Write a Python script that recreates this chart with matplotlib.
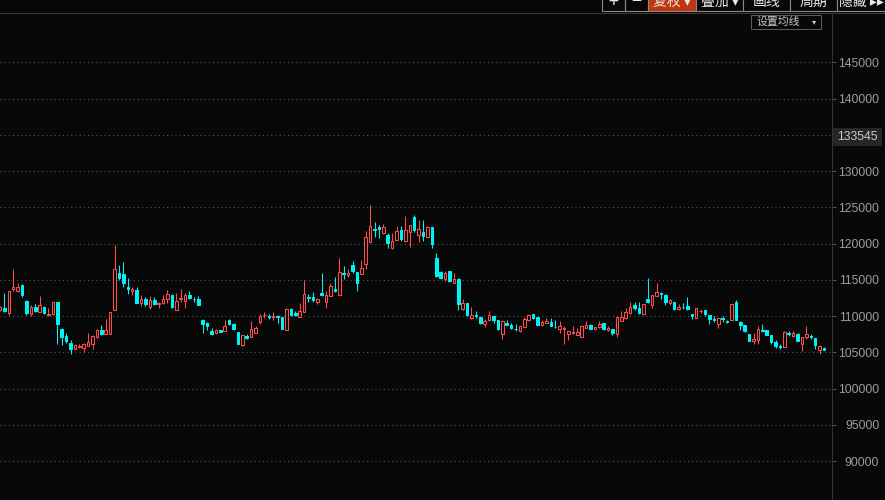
import matplotlib.pyplot as plt
import numpy as np
from matplotlib.patches import Rectangle

plt.rcParams['font.family'] = ['Liberation Sans', 'DejaVu Sans']

# OHLC, left to right
opens = [
    110870, 111060, 110460, 113680, 113450, 114280, 112070, 110320, 111240, 110600,
    111240, 110140, 110230, 111890, 108210, 107240, 106230, 105490, 105720, 105630,
    105860, 106180, 107150, 108070, 107560, 107560, 110870, 115930, 115750, 114000,
    113500, 113630, 111840, 112350, 111290, 112210, 111660, 111840, 112300, 112900,
    110870, 112300, 112120, 112900, 112390, 112350, 109450, 109030, 107930, 107610,
    108070, 107930, 109450, 108940, 107790, 105950, 107290, 107150, 107700, 109220,
    110090, 110000, 109860, 109950, 109860, 108110, 110970, 110460, 109910, 110600,
    112580, 112620, 111980, 113170, 111980, 112810, 113770, 112940, 115930, 115700,
    117040, 116070, 115840, 117130, 120260, 122010, 122330, 121450, 121180, 119340,
    120530, 121820, 120300, 121640, 123620, 121130, 121590, 120860, 122240, 117960,
    116070, 115110, 116210, 114600, 115110, 110970, 111750, 109680, 110140, 109860,
    108940, 109400, 109950, 109400, 107470, 109030, 108760, 108250, 107930, 108530,
    109490, 110230, 109860, 108710, 109080, 109170, 108530, 108250, 108160, 107560,
    107610, 107420, 107150, 108390, 108760, 108160, 108530, 109030, 108110, 108210,
    107560, 109360, 109720, 110370, 111520, 111150, 110230, 112360, 111480, 112830,
    113200, 112920, 111760, 111900, 110930, 111300, 111390, 110280, 109770, 110650,
    110790, 110090, 109580, 108940, 109680, 109310, 109490, 111950, 109170, 108750,
    107500, 106530, 106710, 108010, 108060, 107360, 106390, 105880, 105740, 107690,
    107220, 107500, 106200, 107080, 107220, 106950, 105370, 105560,
]
highs = [
    111380, 113220, 113450, 116490, 114510, 114370, 112160, 111520, 111660, 112760,
    111380, 111150, 111930, 111930, 108390, 107650, 106690, 106090, 106090, 106320,
    107650, 107380, 108250, 108710, 109590, 110550, 119800, 117040, 117450, 115200,
    114000, 113960, 112900, 112620, 112710, 112620, 111980, 112940, 113590, 112990,
    113170, 113730, 113170, 113450, 112620, 112760, 109630, 109220, 108340, 108210,
    108110, 109400, 109590, 109030, 107840, 107420, 107470, 109310, 108620, 110320,
    110550, 110280, 110550, 110140, 109910, 111150, 111100, 110690, 111840, 114920,
    112990, 113310, 112530, 115930, 113450, 114550, 115380, 118000, 116900, 116440,
    117590, 116120, 117730, 121730, 125320, 122970, 122560, 122650, 121500, 121500,
    122420, 122420, 123800, 122560, 123980, 123250, 123250, 122370, 122280, 118690,
    116160, 116210, 116260, 115930, 115200, 112300, 111790, 111240, 110690, 109910,
    109630, 110690, 110000, 109450, 109450, 109400, 109080, 108940, 108670, 109910,
    110280, 110280, 109910, 109450, 109720, 109720, 109450, 109310, 108670, 107980,
    108620, 108390, 108760, 109310, 108900, 108530, 109310, 109080, 108620, 108250,
    110050, 110690, 111150, 111930, 111930, 111930, 111670, 115280, 112920, 114580,
    113290, 113060, 112410, 111950, 111670, 111810, 112690, 110330, 111160, 111020,
    110830, 110140, 110000, 109720, 110000, 109450, 111670, 112180, 109310, 108800,
    107550, 107640, 108610, 108940, 108100, 107410, 106670, 106160, 107920, 107920,
    107920, 107690, 107130, 108610, 107500, 106990, 106070, 105700,
]
lows = [
    110690, 110600, 110140, 113450, 113310, 112670, 110140, 109950, 110510, 110600,
    110320, 109950, 110180, 106180, 106040, 106320, 104800, 105400, 105540, 104990,
    105810, 105490, 106960, 107380, 107560, 107520, 110780, 114920, 114000, 113080,
    112900, 111790, 111380, 111330, 110970, 111520, 111150, 111700, 111840, 111150,
    110870, 111980, 111060, 112390, 111930, 111520, 107700, 108020, 107420, 107560,
    107750, 107880, 108800, 108110, 106140, 105910, 106870, 107100, 107650, 108850,
    109770, 109630, 109490, 109080, 108210, 108070, 110050, 110000, 109860, 110550,
    111930, 111930, 111700, 112710, 111150, 112760, 113310, 112900, 115150, 115430,
    115930, 113450, 115800, 116530, 120120, 120900, 120810, 121270, 119430, 119290,
    120490, 120350, 120260, 119570, 121590, 120210, 120400, 120810, 119430, 115380,
    115150, 114830, 114650, 114550, 110870, 110830, 110050, 109630, 109770, 108850,
    108530, 109360, 109030, 108110, 106870, 108710, 108210, 107980, 107790, 108480,
    109360, 109630, 108760, 108670, 108990, 108570, 108340, 107700, 106180, 106640,
    107470, 107380, 107100, 108340, 108210, 108110, 108390, 108110, 107930, 107380,
    107150, 109310, 109630, 110280, 110870, 110320, 110190, 111760, 111160, 112780,
    112410, 111580, 111580, 110830, 110830, 110930, 110830, 109630, 109720, 110370,
    110050, 108940, 109210, 108380, 109170, 109030, 109450, 109450, 108100, 107780,
    106530, 106160, 106160, 107780, 107320, 106200, 105600, 105420, 105700, 107220,
    107040, 106530, 105140, 106900, 106900, 105420, 104770, 105280,
]
closes = [
    111240, 110690, 113450, 114000, 113960, 112850, 110460, 111240, 110690, 111470,
    110410, 110320, 111890, 108940, 107150, 106550, 105490, 106000, 105810, 106090,
    106370, 107240, 108070, 107560, 108070, 110510, 116440, 115290, 114600, 113730,
    113770, 111840, 112300, 111610, 112210, 111700, 111750, 112390, 113040, 111240,
    112020, 112480, 112850, 112530, 112300, 111560, 108940, 108620, 107560, 108020,
    107790, 108620, 108850, 108160, 106180, 107380, 107010, 108210, 108390, 110000,
    110180, 109910, 109950, 109860, 108250, 110970, 110180, 110180, 110640, 113040,
    112480, 112210, 112390, 112900, 112900, 114140, 113450, 116030, 115840, 115930,
    116160, 114600, 116620, 120860, 122420, 121910, 122050, 122240, 120030, 120300,
    121680, 120670, 121820, 122510, 121870, 121960, 121090, 122330, 119980, 115520,
    115200, 115930, 114830, 115150, 111610, 111750, 110140, 110090, 110050, 109030,
    109360, 110140, 109450, 108250, 109310, 108760, 108390, 108160, 108620, 109630,
    110140, 109680, 108800, 109170, 109360, 108620, 108440, 108670, 108390, 107930,
    107840, 107790, 108670, 108760, 108250, 108480, 108940, 108250, 108390, 107700,
    109910, 109910, 110550, 111240, 111100, 110460, 111620, 111950, 112870, 113330,
    113100, 111990, 112220, 111020, 111300, 111200, 110930, 110000, 111110, 110740,
    110230, 109630, 109490, 109680, 109580, 109210, 111620, 109490, 108800, 107920,
    106570, 106810, 108200, 107920, 107360, 106440, 105930, 105790, 107820, 107590,
    107640, 106570, 107080, 107590, 107130, 106070, 105830, 105320,
]

price_levels = [90000, 95000, 100000, 105000, 110000, 115000, 120000,
                125000, 130000, 135000, 140000, 145000]
last_price = '133545'
toolbar = ['+', '−', '复权 ▾', '叠加 ▾', '画线', '周期', '隐藏 ▸▸']
ma_button = '设置均线'

W, H = 885, 500
bg = '#080808'
up_col = '#ff4d4d'
down_col = '#00f2f2'
cjk = ['Noto Sans CJK SC', 'DejaVu Sans']

fig = plt.figure(figsize=(W / 100, H / 100), dpi=100, facecolor=bg)
ax = fig.add_axes([0, 0, 831.5 / W, 487 / H], facecolor=bg)

o = np.array(opens)
h = np.array(highs)
l = np.array(lows)
c = np.array(closes)
x = np.arange(len(o))
up = c >= o
cols = np.where(up, up_col, down_col)

ax.vlines(x, l, h, colors=cols, lw=0.75, zorder=2)
bottom = np.minimum(o, c)
height = np.maximum(np.abs(c - o), 90)
ax.bar(x[up], height[up], bottom=bottom[up], width=0.58,
       facecolor=bg, edgecolor=up_col, lw=0.75, zorder=3)
ax.bar(x[~up], height[~up], bottom=bottom[~up], width=0.58,
       facecolor=down_col, edgecolor=down_col, lw=0.75, zorder=3)

ax.set_xlim(0, 188.7)
ax.set_ylim(84620, 151806)
ax.set_xticks([])
ax.set_yticks(price_levels)
ax.set_yticklabels(['' if v == 135000 else str(v) for v in price_levels])
ax.yaxis.tick_right()
ax.tick_params(axis='y', length=3, width=0.75, color='#555555',
               labelcolor='#9c9c9c', labelsize=8.8, pad=31.3)
for lbl in ax.get_yticklabels():
    lbl.set_horizontalalignment('right')
ax.grid(axis='y', color='#5a5a5a', ls=(0, (1, 3)), lw=0.75)
for s in ['left', 'top', 'bottom']:
    ax.spines[s].set_visible(False)
ax.spines['right'].set_color('#333333')
ax.spines['right'].set_linewidth(0.75)

# overlay in pixel coords for the UI bits
ui = fig.add_axes([0, 0, 1, 1], facecolor='none')
ui.set_xlim(0, W)
ui.set_ylim(H, 0)
ui.axis('off')

ui.plot([0, W], [13, 13], color='#3a3a3a', lw=0.75)

edges = [602, 625, 648, 696, 743, 790, 837, 885]
for i, name in enumerate(toolbar):
    x0, x1 = edges[i], edges[i + 1]
    face = '#c2360f' if name.startswith('复权') else bg
    ui.add_patch(Rectangle((x0, -3), x1 - x0, 14, facecolor=face,
                           edgecolor='#8a8a8a', lw=0.8))
    size = 13 if len(name) == 1 else 10
    ui.text((x0 + x1) / 2, 2, name, ha='center', va='center', fontsize=size,
            color='#e8e8e8', family=cjk)

ui.add_patch(Rectangle((750.5, 15), 70.5, 14, facecolor='none',
                       edgecolor='#5a5a5a', lw=0.75))
ui.text(757, 22, ma_button, ha='left', va='center', fontsize=7.8,
        color='#c8c8c8', family=cjk)
ui.text(814, 22, '▾', ha='center', va='center', fontsize=6,
        color='#c8c8c8', family=cjk)

ui.add_patch(Rectangle((833, 127.5), 49, 18, facecolor='#262626',
                       edgecolor='none'))
ui.text(878, 136.5, last_price, ha='right', va='center', fontsize=8.8,
        color='#c8ccd2')

fig.savefig('out.png', dpi=100, facecolor=bg)
